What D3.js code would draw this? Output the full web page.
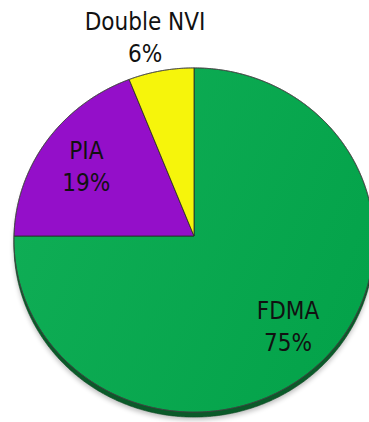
<!DOCTYPE html>
<html>
<head>
<meta charset="utf-8">
<script src="https://cdn.jsdelivr.net/npm/d3@7"></script>
<style>
  html, body { margin: 0; padding: 0; background: #fff; }
  svg { display: block; }
  text { font-family: "DejaVu Sans Condensed", "DejaVu Sans", sans-serif; font-stretch: condensed; font-size: 24px; fill: #111; }
</style>
</head>
<body>
<svg id="chart" width="369" height="422"></svg>
<script>
// Share of schemes
const categories = ["FDMA", "PIA", "Double NVI"];
const values = [75, 19, 6];
const colors = ["#0aa94f", "#940fc9", "#f6f50b"];
const labelInside = [true, true, false];

const W = 369, H = 422;
const cx = 194, cy = 236;          // apex of the slices
const rx = 180;                    // horizontal radius at mid depth
const ry = 172;                    // vertical radius scale
const k = 0.0233;                  // perspective foreshortening of the tilted disc
const depth = 5;                   // visible thickness of the disc

const svg = d3.select("#chart");
const defs = svg.append("defs");

const grad = defs.append("linearGradient").attr("id", "greenShade")
  .attr("x1", "0%").attr("y1", "20%").attr("x2", "100%").attr("y2", "60%");
grad.append("stop").attr("offset", "0%").attr("stop-color", "#10ae56");
grad.append("stop").attr("offset", "100%").attr("stop-color", "#04a34a");

defs.append("filter").attr("id", "soft").attr("x", "-10%").attr("y", "-10%").attr("width", "120%").attr("height", "120%")
  .append("feGaussianBlur").attr("stdDeviation", 2.5);

// project a point of the unit disc (u right, v toward viewer) onto the page
function project(u, v) {
  const d = 1 - k * v;
  return [cx + rx * u / d, cy + ry * v / d];
}
// angle measured clockwise from 12 o'clock, as d3.pie gives it
function polar(a, r) {
  return project(r * Math.sin(a), -r * Math.cos(a));
}
function arcPoints(a0, a1) {
  const n = Math.max(2, Math.ceil((a1 - a0) / 0.01));
  return d3.range(n + 1).map(i => polar(a0 + (a1 - a0) * i / n, 1));
}

const line = d3.line().curve(d3.curveLinear);
const pie = d3.pie().sort(null).value(d => d)(values);

const g = svg.append("g");

// soft ground shadow and the disc's dark rim
const rim = arcPoints(0, 2 * Math.PI);
g.append("path")
  .attr("d", line(rim.map(p => [p[0], p[1] + depth + 3])) + "Z")
  .attr("fill", "#000").attr("opacity", 0.25).attr("filter", "url(#soft)");
g.append("path")
  .attr("d", line(rim.map(p => [p[0], p[1] + depth])) + "Z")
  .attr("fill", "#0a5a29").attr("stroke", "#0a4a22").attr("stroke-width", 0.6);

// slices
g.selectAll("path.slice")
  .data(pie)
  .join("path")
  .attr("class", "slice")
  .attr("d", d => line([[cx, cy], ...arcPoints(d.startAngle, d.endAngle)]) + "Z")
  .attr("fill", (d, i) => i === 0 ? "url(#greenShade)" : colors[i])
  .attr("stroke", "#2a2a2a")
  .attr("stroke-width", 0.8)
  .attr("stroke-linejoin", "round");

// thin grey outline on the disc edge
g.append("path")
  .attr("d", line(rim) + "Z")
  .attr("fill", "none").attr("stroke", "#555").attr("stroke-width", 0.7).attr("opacity", 0.7);

// labels
const labels = svg.append("g").attr("text-anchor", "middle");
pie.forEach((d, i) => {
  const mid = (d.startAngle + d.endAngle) / 2;
  let x, y1, y2;
  if (labelInside[i]) {
    const p = polar(mid, 0.73);
    x = p[0]; y1 = p[1] - 7; y2 = p[1] + 25;
  } else {
    const p = polar(mid, 1);
    x = p[0] - 16; y2 = p[1] - 9; y1 = y2 - 32;
  }
  const t = labels.append("text").attr("x", x);
  t.append("tspan").attr("x", x).attr("y", y1).text(categories[i]);
  t.append("tspan").attr("x", x).attr("y", y2).text(values[i] + "%");
});
</script>
</body>
</html>
